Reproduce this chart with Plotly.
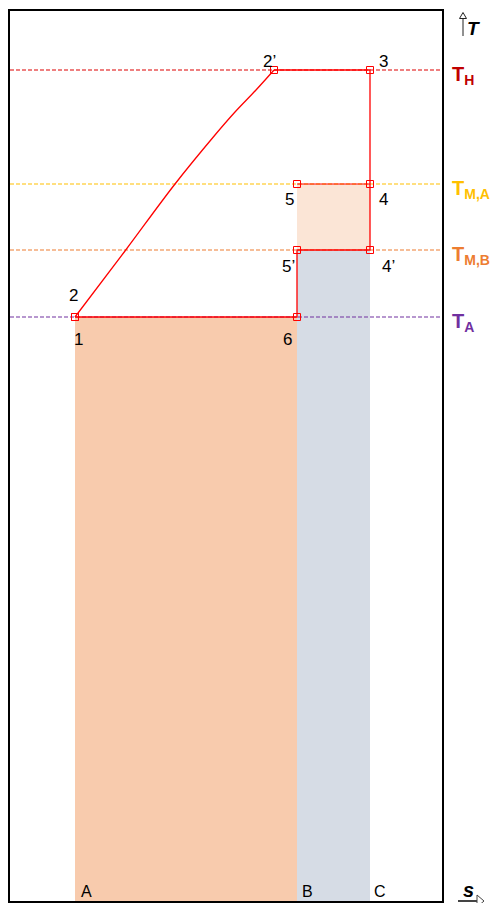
import plotly.graph_objects as go

# entropy positions (s) and temperature levels (T), arbitrary units
s_A = 65
s_B = 287
s_C = 360
s_2p = 264

T_A = 584
T_MB = 651
T_MA = 717
T_H = 831

# compression curve 2 -> 2'
curve_s = [65, 115, 165, 205, 225, 246, 264]
curve_T = [584, 650, 717, 766, 789, 811, 831]

level_names = ["<b>T<sub>H</sub></b>", "<b>T<sub>M,A</sub></b>", "<b>T<sub>M,B</sub></b>", "<b>T<sub>A</sub></b>"]
level_values = [T_H, T_MA, T_MB, T_A]
level_colors = ["#c00000", "#ffc000", "#ed7d31", "#7030a0"]
level_line_colors = ["#dd0000", "#ffc000", "#ed7d31", "#7030a0"]

point_labels = ["2", "1", "2\u2019", "3", "4", "5", "4\u2019", "5\u2019", "6"]
point_s = [s_A, s_A, s_2p, s_C, s_C, s_B, s_C, s_B, s_B]
point_T = [T_A, T_A, T_H, T_H, T_MA, T_MA, T_MB, T_MB, T_A]

S_MAX = 432
T_MAX = 890
FONT = "Arial, Liberation Sans, sans-serif"

fig = go.Figure()

# shaded areas
fig.add_trace(go.Scatter(x=[s_A, s_B, s_B, s_A, s_A], y=[0, 0, T_A, T_A, 0],
                         fill="toself", fillcolor="#f8cbad", mode="none", hoverinfo="skip"))
fig.add_trace(go.Scatter(x=[s_B, s_C, s_C, s_B, s_B], y=[0, 0, T_MB, T_MB, 0],
                         fill="toself", fillcolor="#d6dce5", mode="none", hoverinfo="skip"))
fig.add_trace(go.Scatter(x=[s_B, s_C, s_C, s_B, s_B], y=[T_MB, T_MB, T_MA, T_MA, T_MB],
                         fill="toself", fillcolor="#fbe5d6", mode="none", hoverinfo="skip"))

# temperature levels
for val, col in zip(level_values, level_line_colors):
    fig.add_trace(go.Scatter(x=[0, S_MAX], y=[val, val], mode="lines",
                             line=dict(color=col, width=1.2, dash="4px,2px"), hoverinfo="skip"))

# cycle
fig.add_trace(go.Scatter(x=curve_s, y=curve_T, mode="lines",
                         line=dict(color="#ff0000", width=1.3, shape="spline", smoothing=1.0),
                         hoverinfo="skip"))
fig.add_trace(go.Scatter(x=[s_2p, s_C, s_C, s_B, s_B, s_A],
                         y=[T_H, T_H, T_MB, T_MB, T_A, T_A], mode="lines",
                         line=dict(color="#ff0000", width=1.3), hoverinfo="skip"))
fig.add_trace(go.Scatter(x=[s_B, s_C], y=[T_MA, T_MA], mode="lines",
                         line=dict(color="#ff0000", width=1), hoverinfo="skip"))
fig.add_trace(go.Scatter(x=point_s, y=point_T, mode="markers",
                         marker=dict(symbol="square-open", size=7, color="#ff0000",
                                     line=dict(width=1)), hoverinfo="skip"))

# point labels
offsets = {"2": (-2, 22), "1": (3, -22), "2\u2019": (-5, 9), "3": (13, 9),
           "4": (13, -15), "5": (-8, -15), "4\u2019": (18, -16), "5\u2019": (-9, -16),
           "6": (-10, -22)}
for lab, xs, ts in zip(point_labels, point_s, point_T):
    dx, dy = offsets[lab]
    fig.add_annotation(x=xs, y=ts, text=lab, showarrow=False, xshift=dx, yshift=dy,
                       font=dict(family=FONT, size=17, color="black"))

for lab, xs, dx in zip(["A", "B", "C"], [s_A, s_B, s_C], [11, 10, 10]):
    fig.add_annotation(x=xs, y=0, text=lab, showarrow=False, xshift=dx, yshift=10,
                       font=dict(family=FONT, size=16, color="black"))

# level labels on the right
for name, val, col in zip(level_names, level_values, level_colors):
    fig.add_annotation(x=1.018, xref="paper", y=val, yref="y", text=name, showarrow=False,
                       xanchor="left", yanchor="middle", yshift=-5,
                       font=dict(family=FONT, size=20, color=col))

# axis labels with hollow arrows
def px(x, y):
    return (x - 10) / S_MAX, (901 - y) / T_MAX

fig.add_annotation(x=px(465, 0)[0], y=px(0, 28)[1], xref="paper", yref="paper",
                   text="<b><i>T</i></b>", showarrow=False, xanchor="left", yanchor="middle",
                   font=dict(family=FONT, size=19, color="black"))
fig.add_annotation(x=px(468, 0)[0], y=px(0, 890)[1], xref="paper", yref="paper",
                   text="<b><i>s</i></b>", showarrow=False, xanchor="center", yanchor="middle",
                   font=dict(family=FONT, size=20, color="black"))

x0, y0 = px(463, 36)
x1, y1 = px(463, 18)
fig.add_shape(type="line", xref="paper", yref="paper", x0=x0, y0=y0, x1=x1, y1=y1,
              line=dict(color="#222222", width=1))
a, b = px(463, 12.5)
c, d = px(459.5, 18.5)
e, f = px(466.5, 18.5)
fig.add_shape(type="path", xref="paper", yref="paper",
              path=f"M {a} {b} L {c} {d} L {e} {f} Z",
              fillcolor="white", line=dict(color="#222222", width=1))

x0, y0 = px(458, 901)
x1, y1 = px(477, 901)
fig.add_shape(type="line", xref="paper", yref="paper", x0=x0, y0=y0, x1=x1, y1=y1,
              line=dict(color="#444444", width=2))
a, b = px(484, 901)
c, d = px(477, 895)
e, f = px(477, 907)
fig.add_shape(type="path", xref="paper", yref="paper",
              path=f"M {a} {b} L {c} {d} L {e} {f} Z",
              fillcolor="white", line=dict(color="#444444", width=1))

fig.update_xaxes(range=[0, S_MAX], showgrid=False, zeroline=False, showticklabels=False,
                 ticks="", showline=True, mirror=True, linecolor="black", linewidth=1.5)
fig.update_yaxes(range=[0, T_MAX], showgrid=False, zeroline=False, showticklabels=False,
                 ticks="", showline=True, mirror=True, linecolor="black", linewidth=1.5)
fig.update_layout(width=493, height=903, margin=dict(l=10, r=51, t=11, b=2),
                  plot_bgcolor="white", paper_bgcolor="white", showlegend=False)

fig.write_html("out.html", config={"displayModeBar": False},
               post_script="document.body.style.margin='0';")
